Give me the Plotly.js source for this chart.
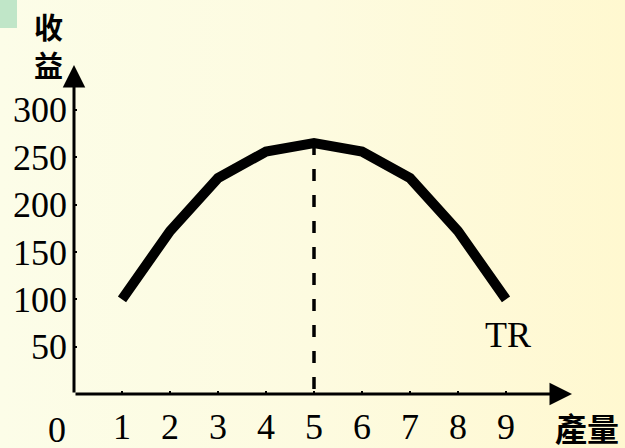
<!DOCTYPE html>
<html>
<head>
<meta charset="utf-8">
<script src="https://cdn.plot.ly/plotly-3.0.1.min.js"></script>
<style>
  html, body { margin: 0; padding: 0; }
  body { width: 625px; height: 448px; overflow: hidden;
         background: linear-gradient(to right, #fcfde8 0%, #fdfbe0 50%, #fff8d0 100%); }
  #chart { width: 625px; height: 448px; }
</style>
</head>
<body>
<div id="chart"></div>
<script>
// Data
const quantity = [1, 2, 3, 4, 5, 6, 7, 8, 9];
const totalRevenue = [100, 172, 228, 256, 265, 256, 228, 172, 100];
const xTickLabels = ["1", "2", "3", "4", "5", "6", "7", "8", "9"];
const yTickValues = [50, 100, 150, 200, 250, 300];
const yTickLabels = ["50", "100", "150", "200", "250", "300"];
const peakIndex = 4;

const serif = "Liberation Serif, Times New Roman, serif";
const cjk = "Noto Sans CJK TC, Noto Sans CJK SC, sans-serif";

const xMax = 10.375, yMax = 347.4;

const traces = [
  {
    x: [quantity[peakIndex], quantity[peakIndex]],
    y: [totalRevenue[peakIndex], 0],
    mode: "lines",
    line: { color: "#000", width: 3.5, dash: "12px,14px" },
    hoverinfo: "skip",
    showlegend: false
  },
  {
    x: quantity,
    y: totalRevenue,
    mode: "lines",
    line: { color: "#000", width: 10 },
    showlegend: false
  }
];

const layout = {
  width: 625, height: 448,
  margin: { l: 74, r: 53, t: 65, b: 54, pad: 0 },
  paper_bgcolor: "rgba(0,0,0,0)",
  plot_bgcolor: "rgba(0,0,0,0)",
  showlegend: false,
  xaxis: {
    range: [0, xMax], tickvals: quantity, ticktext: xTickLabels,
    ticks: "inside", ticklen: 3, tickwidth: 2, tickcolor: "#000",
    showgrid: false, zeroline: false, showline: false,
    tickfont: { family: serif, size: 36, color: "#000" },
    ticklabelstandoff: 8, fixedrange: true
  },
  yaxis: {
    range: [0, yMax], tickvals: yTickValues, ticktext: yTickLabels,
    ticks: "inside", ticklen: 3, tickwidth: 2, tickcolor: "#000",
    showgrid: false, zeroline: false, showline: false,
    tickfont: { family: serif, size: 36, color: "#000" },
    ticklabelstandoff: 6, fixedrange: true
  },
  shapes: [
    { type: "rect", xref: "paper", yref: "paper",
      x0: -0.1486, x1: -0.1145, y0: 1.1125, y1: 1.2,
      fillcolor: "#c0e6c8", line: { width: 0 }, layer: "below" }
  ],
  annotations: [
    { x: xMax, y: 0, ax: 0, ay: 0, axref: "x", ayref: "y", xref: "x", yref: "y",
      text: "", showarrow: true, arrowhead: 2, arrowsize: 1.5, arrowwidth: 3, arrowcolor: "#000",
      standoff: 0, startstandoff: 0 },
    { x: 0, y: yMax, ax: 0, ay: 0, axref: "x", ayref: "y", xref: "x", yref: "y",
      text: "", showarrow: true, arrowhead: 2, arrowsize: 1.5, arrowwidth: 3, arrowcolor: "#000",
      standoff: 0, startstandoff: 0 },
    { xref: "paper", yref: "paper", x: (57 - 74) / 498, y: (394 - 430) / 329,
      text: "0", showarrow: false, xanchor: "center", yanchor: "middle", borderpad: 0,
      font: { family: serif, size: 36, color: "#000" } },
    { xref: "x", yref: "y", x: 9.04, y: 62,
      text: "TR", showarrow: false, xanchor: "center", yanchor: "middle",
      font: { family: serif, size: 36, color: "#000" } },
    { xref: "paper", yref: "paper", x: (48 - 74) / 498, y: (394 - 45) / 329,
      text: "收<br>益", showarrow: false, xanchor: "center", yanchor: "middle", borderpad: 0,
      font: { family: cjk, size: 29, color: "#000", weight: 600 } },
    { xref: "paper", yref: "paper", x: (587 - 74) / 498, y: (394 - 427) / 329,
      text: "產量", showarrow: false, xanchor: "center", yanchor: "middle", borderpad: 0,
      font: { family: cjk, size: 32, color: "#000", weight: 600 } }
  ]
};

Plotly.newPlot("chart", traces, layout, { displayModeBar: false, staticPlot: true });
</script>
</body>
</html>
